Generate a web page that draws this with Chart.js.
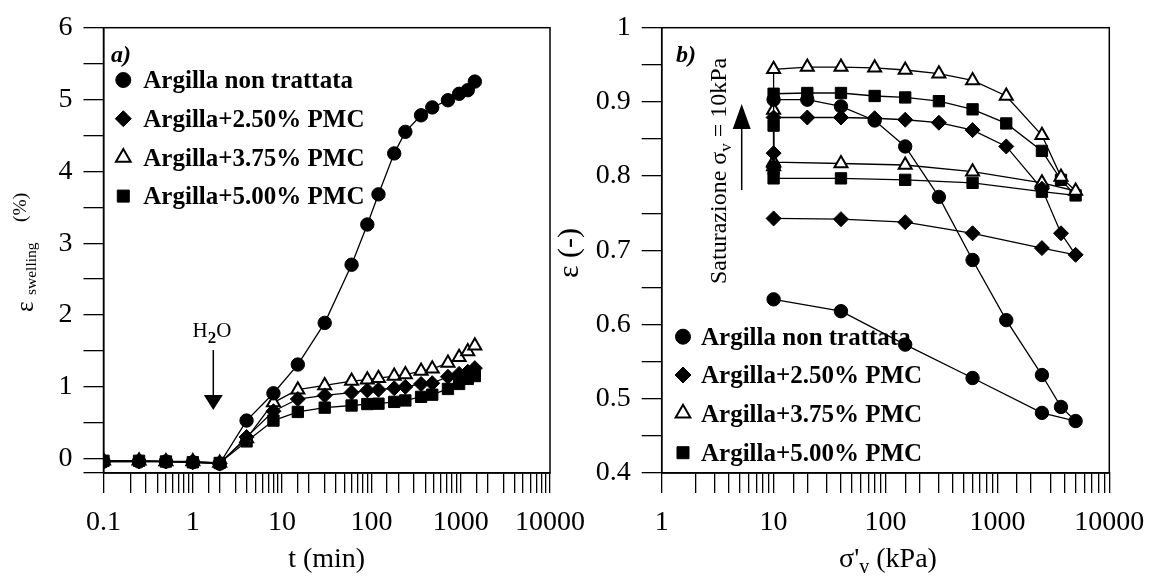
<!DOCTYPE html>
<html>
<head>
<meta charset="utf-8">
<script src="https://cdn.jsdelivr.net/npm/chart.js@4.4.1/dist/chart.umd.min.js"></script>
<style>
  html, body { margin: 0; padding: 0; background: #fff; }
  #wrap { position: relative; width: 1153px; height: 578px; background: #fff; overflow: hidden; }
  canvas { position: absolute; top: 0; }
</style>
</head>
<body>
<div id="wrap">
  <canvas id="swelling" width="600" height="578" style="left:0"></canvas>
  <canvas id="oedometer" width="613" height="578" style="left:540px"></canvas>
</div>
<script>
// --- data ---

const SERIES_LABELS = [
  "Argilla non trattata",
  "Argilla+2.50% PMC",
  "Argilla+3.75% PMC",
  "Argilla+5.00% PMC",
];

// a) swelling strain vs time
const TIME_MIN = [0.1, 0.25, 0.5, 1, 2, 4, 8, 15, 30, 60, 90, 120, 180, 240, 360, 480, 720, 960, 1200, 1440];
const swellUntreated = [-0.04, -0.04, -0.04, -0.05, -0.07, 0.53, 0.91, 1.31, 1.89, 2.70, 3.26, 3.68, 4.25, 4.55, 4.78, 4.89, 4.99, 5.08, 5.13, 5.25];
const swellPmc250 = [-0.04, -0.04, -0.04, -0.05, -0.07, 0.30, 0.66, 0.83, 0.88, 0.92, 0.95, 0.96, 0.98, 1.00, 1.04, 1.05, 1.14, 1.18, 1.21, 1.26];
const swellPmc375 = [-0.03, -0.03, -0.04, -0.04, -0.06, 0.28, 0.78, 0.96, 1.02, 1.08, 1.10, 1.12, 1.15, 1.17, 1.22, 1.25, 1.33, 1.41, 1.49, 1.57];
const swellPmc500 = [-0.03, -0.03, -0.04, -0.05, -0.06, 0.24, 0.53, 0.65, 0.71, 0.74, 0.76, 0.765, 0.79, 0.81, 0.86, 0.89, 0.97, 1.04, 1.11, 1.15];

// b) void ratio vs vertical effective stress (saturation at 10 kPa, loading, unloading)
const STRESS_UNTREATED = [10, 10, 20, 40, 80, 150, 300, 600, 1200, 2500, 3700, 5000, 2500, 600, 150, 40, 10];
const STRESS_PMC = [10, 10, 10, 20, 40, 80, 150, 300, 600, 1200, 2500, 3700, 5000, 2500, 600, 150, 40, 10];
const voidUntreated = [0.812, 0.903, 0.903, 0.894, 0.875, 0.840, 0.772, 0.687, 0.606, 0.532, 0.489, 0.470, 0.481, 0.528, 0.573, 0.618, 0.634];
const voidPmc250 = [0.812, 0.831, 0.879, 0.879, 0.879, 0.878, 0.876, 0.872, 0.862, 0.840, 0.783, 0.723, 0.694, 0.703, 0.723, 0.738, 0.742, 0.743];
const voidPmc375 = [0.813, 0.889, 0.944, 0.947, 0.947, 0.946, 0.943, 0.938, 0.929, 0.908, 0.855, 0.799, 0.780, 0.791, 0.806, 0.815, 0.817, 0.819];
const voidPmc500 = [0.810, 0.868, 0.911, 0.912, 0.912, 0.908, 0.906, 0.901, 0.890, 0.871, 0.834, 0.795, 0.774, 0.779, 0.791, 0.795, 0.797, 0.797];

// --- styling ---

const FONT = "'Liberation Serif', 'Times New Roman', serif";
const TICK_FONT = { family: FONT, size: 28 };
const MARKERS = [
  { style: "circle", radius: 6.7, legendRadius: 7.5, fill: "#000", borderWidth: 1 },
  { style: "rectRot", radius: 7.5, legendRadius: 8, fill: "#000", borderWidth: 1 },
  { style: "triangle", radius: 7.5, legendRadius: 8.5, fill: "#fff", borderWidth: 2 },
  { style: "rect", radius: 8, legendRadius: 8.5, fill: "#000", borderWidth: 1 },
];

const isPow10 = (v) => {
  const l = Math.log10(v);
  return Math.abs(l - Math.round(l)) < 1e-6;
};
const logLabel = (v) => (isPow10(v) ? (v < 1 ? v.toFixed(1) : String(Math.round(v))) : "");

const zip = (xs, ys) => xs.map((x, i) => ({ x, y: ys[i] }));

const makeDataset = (label, points, i) => ({
  label,
  data: points,
  borderColor: "#000",
  borderWidth: 1.3,
  pointStyle: MARKERS[i].style,
  pointRadius: MARKERS[i].radius,
  pointBackgroundColor: MARKERS[i].fill,
  pointBorderColor: "#000",
  pointBorderWidth: MARKERS[i].borderWidth,
  tension: 0,
  fill: false,
});

const axisStyle = (tickLength) => ({
  grid: { drawOnChartArea: false, drawTicks: true, tickLength, color: "#000", lineWidth: 1.3 },
  border: { display: true, color: "#000", width: 1.5 },
});

const xLogAxis = (min, max, height) => ({
  type: "logarithmic",
  position: "bottom",
  min,
  max,
  ...axisStyle(20),
  ticks: { autoSkip: false, maxRotation: 0, padding: 13, color: "#000", font: TICK_FONT, callback: logLabel },
  afterFit: (s) => { s.height = height; s.paddingLeft = 0; s.paddingRight = 0; },
});

const yLinAxis = (min, max, step, width, callback) => ({
  type: "linear",
  min,
  max,
  ...axisStyle(20),
  ticks: { stepSize: step, includeBounds: false, autoSkip: false, padding: 11, color: "#000", font: TICK_FONT, callback },
  // keep a tick mark at the bottom of the axis even when it is not a round value
  afterBuildTicks: (s) => {
    if (s.ticks.length && s.ticks[0].value > min + 1e-9) s.ticks.unshift({ value: min });
  },
  afterFit: (s) => { s.width = width; s.paddingTop = 0; s.paddingBottom = 0; },
});

// text helpers
const text = (ctx, str, x, y, font, align = "left", angle = 0) => {
  ctx.save();
  ctx.translate(x, y);
  ctx.rotate(angle);
  ctx.font = font;
  ctx.fillStyle = "#000";
  ctx.textAlign = align;
  ctx.textBaseline = "alphabetic";
  ctx.fillText(str, 0, 0);
  ctx.restore();
};

const runs = (ctx, parts, x, y, align = "left", angle = 0) => {
  ctx.save();
  ctx.translate(x, y);
  ctx.rotate(angle);
  ctx.fillStyle = "#000";
  ctx.textAlign = "left";
  ctx.textBaseline = "alphabetic";
  let total = 0;
  parts.forEach((p) => { ctx.font = p.font; total += ctx.measureText(p.text).width; });
  let cx = align === "center" ? -total / 2 : 0;
  parts.forEach((p) => {
    ctx.font = p.font;
    ctx.fillText(p.text, cx, p.dy || 0);
    cx += ctx.measureText(p.text).width;
  });
  ctx.restore();
};

const arrow = (ctx, x, y0, y1, headLen, headW) => {
  const dir = Math.sign(y1 - y0);
  ctx.save();
  ctx.strokeStyle = "#000";
  ctx.fillStyle = "#000";
  ctx.lineWidth = 1.5;
  ctx.beginPath();
  ctx.moveTo(x, y0);
  ctx.lineTo(x, y1 - dir * headLen);
  ctx.stroke();
  ctx.beginPath();
  ctx.moveTo(x - headW / 2, y1 - dir * headLen);
  ctx.lineTo(x + headW / 2, y1 - dir * headLen);
  ctx.lineTo(x, y1);
  ctx.closePath();
  ctx.fill();
  ctx.restore();
};

const drawLegend = (ctx, markerX, textX, ys) => {
  SERIES_LABELS.forEach((label, i) => {
    const m = MARKERS[i];
    ctx.save();
    ctx.fillStyle = m.fill;
    ctx.strokeStyle = "#000";
    ctx.lineWidth = m.borderWidth;
    Chart.helpers.drawPoint(ctx, { pointStyle: m.style, radius: m.legendRadius, rotation: 0, borderWidth: m.borderWidth }, markerX, ys[i]);
    ctx.restore();
    text(ctx, label, textX, ys[i] + 8.3, `bold 25px ${FONT}`);
  });
};

const framePlugin = {
  id: "frame",
  afterDraw(chart) {
    const { ctx, chartArea: a } = chart;
    ctx.save();
    ctx.strokeStyle = "#000";
    ctx.lineWidth = 1.5;
    ctx.strokeRect(a.left, a.top, a.right - a.left, a.bottom - a.top);
    ctx.restore();
  },
};

const swellingNotes = {
  id: "swellingNotes",
  afterDraw(chart) {
    const { ctx } = chart;
    text(ctx, "a)", 111, 62, `italic bold 24px ${FONT}`);
    drawLegend(ctx, 123.3, 143.3, [80, 118.7, 157.4, 196.1]);
    runs(ctx, [
      { text: "H", font: `21px ${FONT}` },
      { text: "2", font: `bold 17px ${FONT}`, dy: 6 },
      { text: "O", font: `21px ${FONT}` },
    ], 212, 337, "center");
    arrow(ctx, 213.3, 350, 410, 15, 19);
    text(ctx, "t (min)", 326.7, 567, `28px ${FONT}`, "center");
    // y title: epsilon_swelling (%)
    text(ctx, "ε", 33, 312, `25px ${FONT}`, "left", -Math.PI / 2);
    text(ctx, "swelling", 35.5, 295, `15.5px ${FONT}`, "left", -Math.PI / 2);
    text(ctx, "(%)", 26, 222, `19.5px ${FONT}`, "left", -Math.PI / 2);
  },
};

const oedometerNotes = {
  id: "oedometerNotes",
  afterDraw(chart) {
    const { ctx } = chart;
    text(ctx, "b)", 136, 62, `italic bold 24px ${FONT}`);
    drawLegend(ctx, 143, 161, [336.7, 375, 413.3, 452.7]);
    runs(ctx, [
      { text: "Saturazione σ", font: `24px ${FONT}` },
      { text: "v", font: `17px ${FONT}`, dy: 5 },
      { text: " = 10kPa", font: `24px ${FONT}` },
    ], 186, 284, "left", -Math.PI / 2);
    arrow(ctx, 201.7, 190, 104, 25, 18);
    runs(ctx, [
      { text: "σ'", font: `28px ${FONT}` },
      { text: "v", font: `20px ${FONT}`, dy: 6 },
      { text: " (kPa)", font: `28px ${FONT}` },
    ], 348, 567, "center");
    text(ctx, "ε (-)", 38, 278, `30px ${FONT}`, "left", -Math.PI / 2);
  },
};

const baseOptions = (padding, scales) => ({
  responsive: false,
  animation: false,
  layout: { padding },
  plugins: { legend: { display: false }, tooltip: { enabled: false } },
  scales,
});

new Chart(document.getElementById("swelling"), {
  type: "line",
  data: {
    datasets: [swellUntreated, swellPmc250, swellPmc375, swellPmc500].map((vals, i) =>
      makeDataset(SERIES_LABELS[i], zip(TIME_MIN, vals), i)),
  },
  options: baseOptions({ left: 0, top: 27.7, right: 50, bottom: 0 }, {
    x: xLogAxis(0.1, 10000, 105),
    y: yLinAxis(-0.2, 6, 0.5, 103.5, (v) => (Math.abs(v - Math.round(v)) < 1e-6 ? String(Math.round(v)) : "")),
  }),
  plugins: [framePlugin, swellingNotes],
});

new Chart(document.getElementById("oedometer"), {
  type: "line",
  data: {
    datasets: [
      makeDataset(SERIES_LABELS[0], zip(STRESS_UNTREATED, voidUntreated), 0),
      makeDataset(SERIES_LABELS[1], zip(STRESS_PMC, voidPmc250), 1),
      makeDataset(SERIES_LABELS[2], zip(STRESS_PMC, voidPmc375), 2),
      makeDataset(SERIES_LABELS[3], zip(STRESS_PMC, voidPmc500), 3),
    ],
  },
  options: baseOptions({ left: 0, top: 27.7, right: 43.7, bottom: 0 }, {
    x: xLogAxis(1, 10000, 105),
    y: yLinAxis(0.4, 1, 0.05, 121.7, (v) => {
      if (Math.abs(v * 10 - Math.round(v * 10)) > 1e-6) return "";
      return v > 0.999 ? "1" : v.toFixed(1);
    }),
  }),
  plugins: [framePlugin, oedometerNotes],
});
</script>
</body>
</html>
